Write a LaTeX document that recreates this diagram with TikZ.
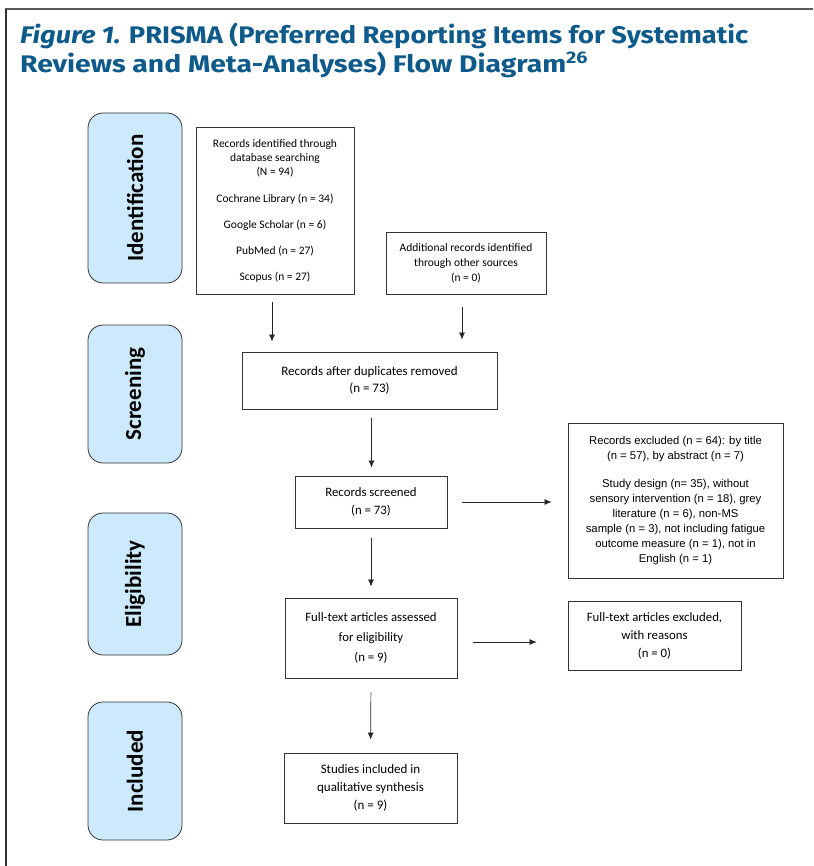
\documentclass[tikz,border=0pt]{standalone}
\usepackage{fontspec}
\usepackage{graphicx}
\setmainfont{Carlito}
\newfontfamily\titlefont{Fira Sans}
\newfontfamily\arialfont{Liberation Sans}
\usetikzlibrary{arrows.meta}
\definecolor{prismablue}{HTML}{0E5A8A}
\definecolor{stagefill}{HTML}{CCEAFC}
\newsavebox\titlelinea
\newsavebox\titlelineb
\tikzset{
  stage/.style={draw=black!80, fill=stagefill, rounded corners=15pt, minimum height=94pt, line width=0.8pt, font=\fontsize{23}{27}\selectfont\bfseries},
  flowbox/.style={draw=black!80, line width=0.8pt, align=center, inner sep=0pt},
  arr/.style={-{Latex[length=7pt,width=6pt]}, black!85, line width=0.7pt},
}
\begin{document}
% title lines, squeezed to the widths of the printed ones
\sbox\titlelinea{\color{prismablue}\titlefont\fontsize{24}{29}\selectfont\bfseries\itshape Figure 1. \upshape PRISMA (Preferred Reporting Items for Systematic}%
\sbox\titlelineb{\color{prismablue}\titlefont\fontsize{24}{29}\selectfont\bfseries Reviews and Meta-Analyses) Flow Diagram\textsuperscript{26}}%
\pgfmathsetmacro\titlescalea{728/\the\wd\titlelinea}%
\pgfmathsetmacro\titlescaleb{568/\the\wd\titlelineb}%
\begin{tikzpicture}[x=1pt, y=-1pt]
  \useasboundingbox (0,0) rectangle (813,866);
  % frame
  \draw[black!65, line width=2pt] (5,9) -- (813,9);
  \draw[black!80, line width=1.2pt] (6,9) -- (6,866);
  % title
  \node[anchor=base west, inner sep=0pt] (title1) at (20,44) {\scalebox{\titlescalea}[1]{\usebox\titlelinea}};
  \node[anchor=base west, inner sep=0pt] (title2) at (20,73) {\scalebox{\titlescaleb}[1]{\usebox\titlelineb}};
  % stages: centre / length / name / label
  \foreach \y/\h/\name/\lab in {198/170/ident/Identification, 394/138/scr/Screening,
                                584/142/elig/Eligibility, 771/138/incl/Included}
    \node[stage, minimum width=\h pt, rotate=90] (\name) at (135,\y) {\lab};
  % boxes
  \node[flowbox, minimum width=158pt, minimum height=167pt, font=\fontsize{11.5}{14}\selectfont] (id) at (275,210.5)
    {Records identified through\\ database searching\\ (N = 94)\\[13pt]
     Cochrane Library (n = 34)\\[12pt] Google Scholar (n = 6)\\[12pt] PubMed (n = 27)\\[12pt] Scopus (n = 27)};
  \node[flowbox, minimum width=160pt, minimum height=62pt, font=\fontsize{11.5}{15}\selectfont] (add) at (466,263)
    {Additional records identified\\ through other sources\\ (n = 0)};
  \node[flowbox, minimum width=255pt, minimum height=57pt, font=\fontsize{13}{17}\selectfont] (dup) at (369.5,380.5)
    {Records after duplicates removed\\ (n = 73)};
  \node[flowbox, minimum width=152pt, minimum height=52pt, font=\fontsize{12.8}{18}\selectfont] (screened) at (371,502)
    {Records screened\\ (n = 73)};
  \node[flowbox, minimum width=215pt, minimum height=155pt, font=\arialfont\fontsize{11.3}{15}\selectfont] (excl) at (675.5,500.5)
    {Records excluded (n = 64): by title\\ (n = 57), by abstract (n = 7)\\[13pt]
     Study design (n= 35), without\\ sensory intervention (n = 18), grey\\ literature (n = 6), non-MS\\
     sample (n = 3), not including fatigue\\ outcome measure (n = 1), not in\\ English (n = 1)};
  \node[flowbox, minimum width=172pt, minimum height=80pt, font=\fontsize{12.8}{20}\selectfont] (full) at (371,638)
    {Full-text articles assessed\\ for eligibility\\ (n = 9)};
  \node[flowbox, minimum width=173pt, minimum height=69pt, font=\fontsize{12.8}{18}\selectfont] (fullexcl) at (654.5,635.5)
    {Full-text articles excluded,\\ with reasons\\ (n = 0)};
  \node[flowbox, minimum width=173pt, minimum height=70pt, font=\fontsize{13}{18}\selectfont] (studies) at (370.5,788)
    {Studies included in\\ qualitative synthesis\\ (n = 9)};
  % arrows
  \draw[arr, shorten <=8pt, shorten >=10pt] ([xshift=-3pt]id.south) -- ([xshift=-3pt]id.south |- dup.north);
  \draw[arr, shorten <=13pt, shorten >=12pt] ([xshift=-4pt]add.south) -- ([xshift=-4pt]add.south |- dup.north);
  \draw[arr, shorten <=9pt, shorten >=8pt] ([xshift=2pt]dup.south) -- ([xshift=2pt]dup.south |- screened.north);
  \draw[arr, shorten <=15pt, shorten >=16pt] (screened.east) -- (screened.east -| excl.west);
  \draw[arr, shorten <=10pt, shorten >=11pt] (screened.south) -- (full.north);
  \draw[arr, shorten <=16pt, shorten >=31pt] ([yshift=-4pt]full.east) -- ([yshift=-4pt]full.east -| fullexcl.west);
  \draw[arr, shorten <=14pt, shorten >=13pt] (full.south) -- (studies.north);
\end{tikzpicture}
\end{document}
